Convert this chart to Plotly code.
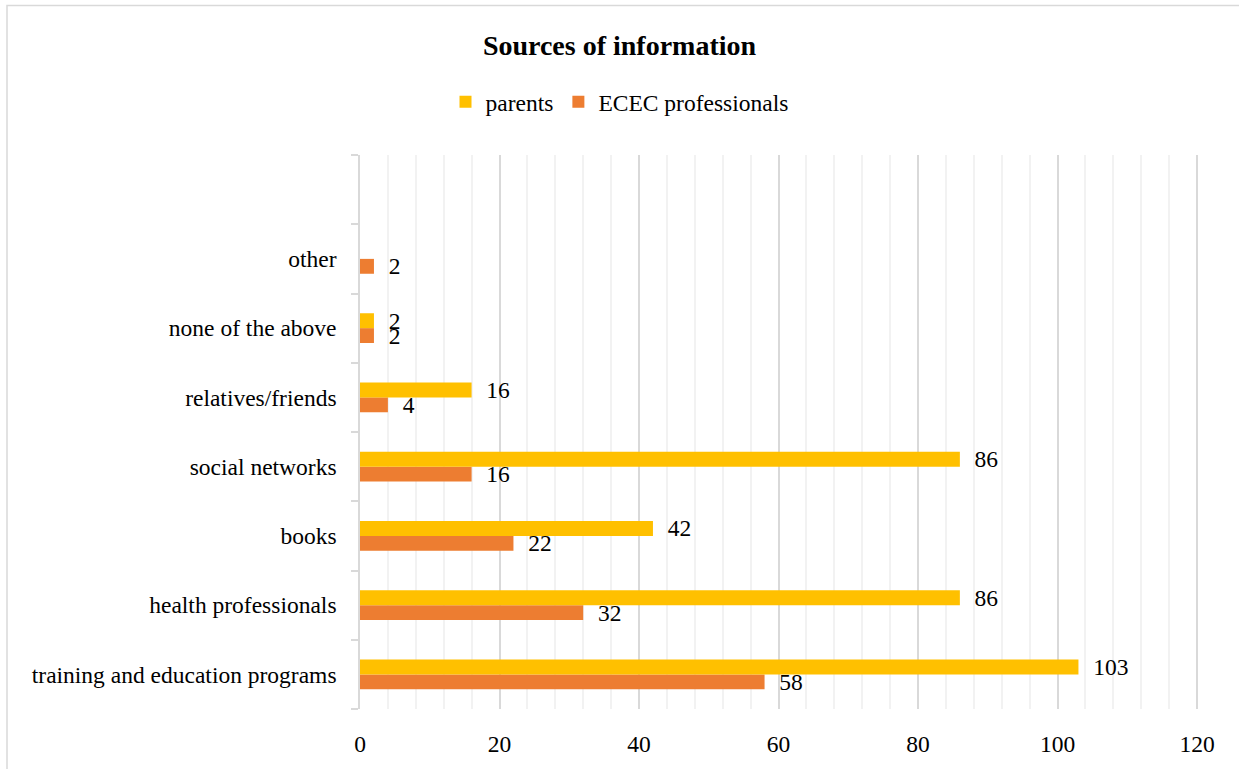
import plotly.graph_objects as go

categories = ["training and education programs", "health professionals", "books",
              "social networks", "relatives/friends", "none of the above", "other", " "]
parents = [103, 86, 42, 86, 16, 2, None, None]
ecec = [58, 32, 22, 16, 4, 2, 2, None]
x_ticks = [0, 20, 40, 60, 80, 100, 120]

FONT = "Liberation Serif"
FS = 23.5
fig = go.Figure()
fig.add_trace(go.Bar(
    y=categories, x=ecec, orientation="h", name="ECEC professionals",
    marker=dict(color="#ED7D31", line=dict(width=0)),
    texttemplate="  %{x}", textposition="outside", constraintext="none",
    textfont=dict(family=FONT, size=FS, color="#000000"), cliponaxis=False,
))
fig.add_trace(go.Bar(
    y=categories, x=parents, orientation="h", name="parents",
    marker=dict(color="#FFC000", line=dict(width=0)),
    texttemplate="  %{x}", textposition="outside", constraintext="none",
    textfont=dict(family=FONT, size=FS, color="#000000"), cliponaxis=False,
))

fig.update_layout(
    width=1239, height=769,
    margin=dict(l=360, r=35, t=155, b=58),
    paper_bgcolor="white", plot_bgcolor="white",
    font=dict(family=FONT, size=FS, color="#000000"),
    title=dict(text="<b>Sources of information</b>", x=0.5, xref="container",
               xanchor="center", y=1 - 45 / 769, yanchor="middle",
               font=dict(family=FONT, size=28, color="#000000")),
    barmode="group", bargap=0.57, bargroupgap=0,
    showlegend=True,
    legend=dict(orientation="h", traceorder="reversed", x=0.5, xref="container",
                xanchor="center", y=1 - 102 / 769, yref="container", yanchor="middle",
                font=dict(family=FONT, size=FS), itemwidth=30, itemsizing="constant"),
    xaxis=dict(range=[0, 121], tickvals=x_ticks, showgrid=True, gridcolor="#D9D9D9",
               gridwidth=1.5, zeroline=False, showline=False, ticks="",
               ticklabelstandoff=18,
               minor=dict(dtick=4, showgrid=True, gridcolor="#F2F2F2", gridwidth=1.5)),
    yaxis=dict(type="category", categoryorder="array", categoryarray=categories,
               range=[-0.5, len(categories) - 0.5], showline=True, linecolor="#D9D9D9",
               linewidth=1.5, ticks="outside", tickson="boundaries", ticklen=7,
               tickcolor="#D9D9D9", tickwidth=1.5, showgrid=False, ticklabelstandoff=17),
)

fig.add_shape(type="rect", xref="paper", yref="paper",
              x0=(7 - 360) / 844, x1=1.2, y0=-0.3, y1=(711 - 5) / 556,
              line=dict(color="#D9D9D9", width=1.5), fillcolor="rgba(0,0,0,0)", layer="below")

fig.write_html("out.html")
